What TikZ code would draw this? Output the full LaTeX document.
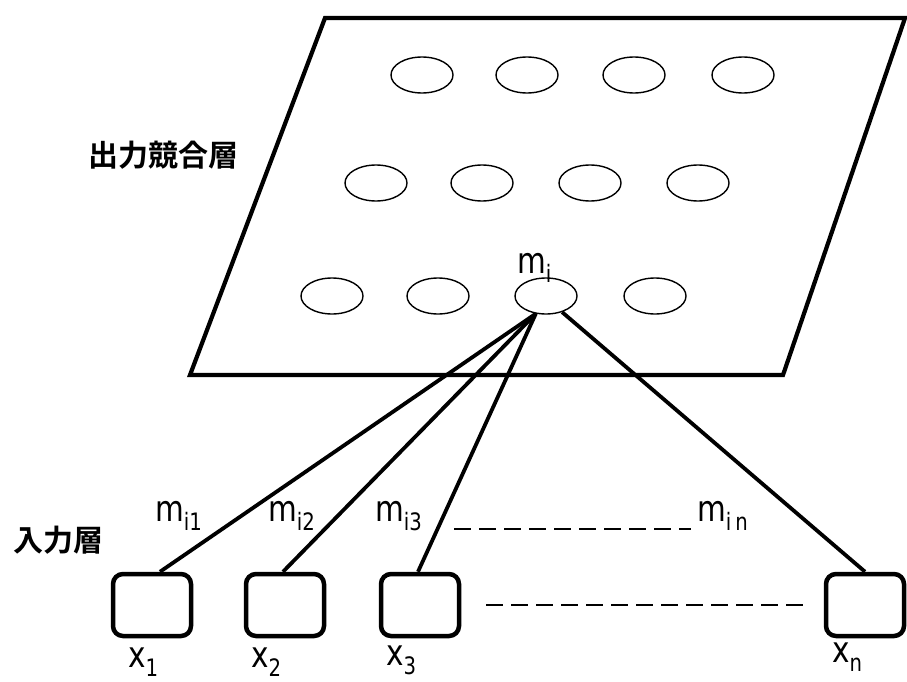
\documentclass[tikz,border=0pt]{standalone}
\usepackage{fontspec}
\usetikzlibrary{shapes.geometric}
\newfontfamily\lab{DejaVu Sans}[FakeStretch=0.82]
\newfontfamily\jp{Noto Sans CJK JP Bold}
\newcommand{\lsub}[1]{\raisebox{-0.26em}{\fontsize{24}{24}\selectfont #1}}
\tikzset{
  layer/.style={line width=4.2pt, line join=miter},
  unit/.style={draw, ellipse, line width=1.4pt, minimum width=62pt, minimum height=36pt, inner sep=0pt},
  inbox/.style={draw, rounded corners=10pt, line width=4.5pt, minimum width=78pt, minimum height=62pt, inner sep=0pt},
  conn/.style={line width=3.8pt},
  dotline/.style={line width=1.4pt, dash pattern=on 17pt off 8pt},
  lbl/.style={font=\lab\fontsize{36}{36}\selectfont, inner sep=0pt, anchor=base west},
  jplbl/.style={font=\jp\fontsize{30}{30}\selectfont, inner sep=0pt}
}
\begin{document}
\begin{tikzpicture}[x=1pt,y=-1pt]
\useasboundingbox (0,0) rectangle (907,682);
% parallelogram
\coordinate (p1) at (325,18);
\coordinate (p2) at (905,18);
\coordinate (p3) at (783,375);
\coordinate (p4) at (190,375);
\draw[layer] (p1) -- (p2) -- (p3) -- (p4) -- cycle;
% ellipses
\foreach \x [count=\i] in {422,527,634,743} \node[unit] (a\i) at (\x,75) {};
\foreach \x [count=\i] in {376,482,590,698} \node[unit] (b\i) at (\x,183) {};
\node[unit] (c1) at (332,296) {};
\node[unit] (c2) at (438,296) {};
\node[unit] (mi) at (546,296) {};
\node[unit] (c4) at (655,296) {};
\node[lbl] (milab) at (517,273) {m\lsub{i}};
% boxes
\node[inbox] (x1) at (152,605) {};
\node[inbox] (x2) at (285,605) {};
\node[inbox] (x3) at (420,605) {};
\node[inbox] (xn) at (865,605) {};
% connectors
\draw[conn] (mi.240) -- ([xshift=8pt]x1.north);
\draw[conn] (mi.240) -- ([xshift=-2pt]x2.north);
\draw[conn] (mi.240) -- ([xshift=-2pt]x3.north);
\draw[conn] (mi.-45) -- (xn.north);
% labels
\node[lbl] (m1) at (155,521) {m\lsub{i1}};
\node[lbl] (m2) at (268,521) {m\lsub{i2}};
\node[lbl] (m3) at (375,521) {m\lsub{i3}};
\node[lbl] (mn) at (697,521) {m\lsub{i\,n}};
\draw[dotline] ([xshift=32pt,yshift=-8pt]m3.base east) -- ([xshift=-6pt,yshift=-8pt]mn.base west);
\draw[dotline] ([xshift=25pt]x3.east) -- ([xshift=-20pt]xn.west);
\node[lbl] (l1) at (128,667) {x\lsub{1}};
\node[lbl] (l2) at (251,667) {x\lsub{2}};
\node[lbl] (l3) at (386,665) {x\lsub{3}};
\node[lbl] (ln) at (832,662) {x\lsub{n}};
\node[jplbl] (out) at (163,155) {出力競合層};
\node[jplbl] (in) at (58,540) {入力層};
\end{tikzpicture}
\end{document}
